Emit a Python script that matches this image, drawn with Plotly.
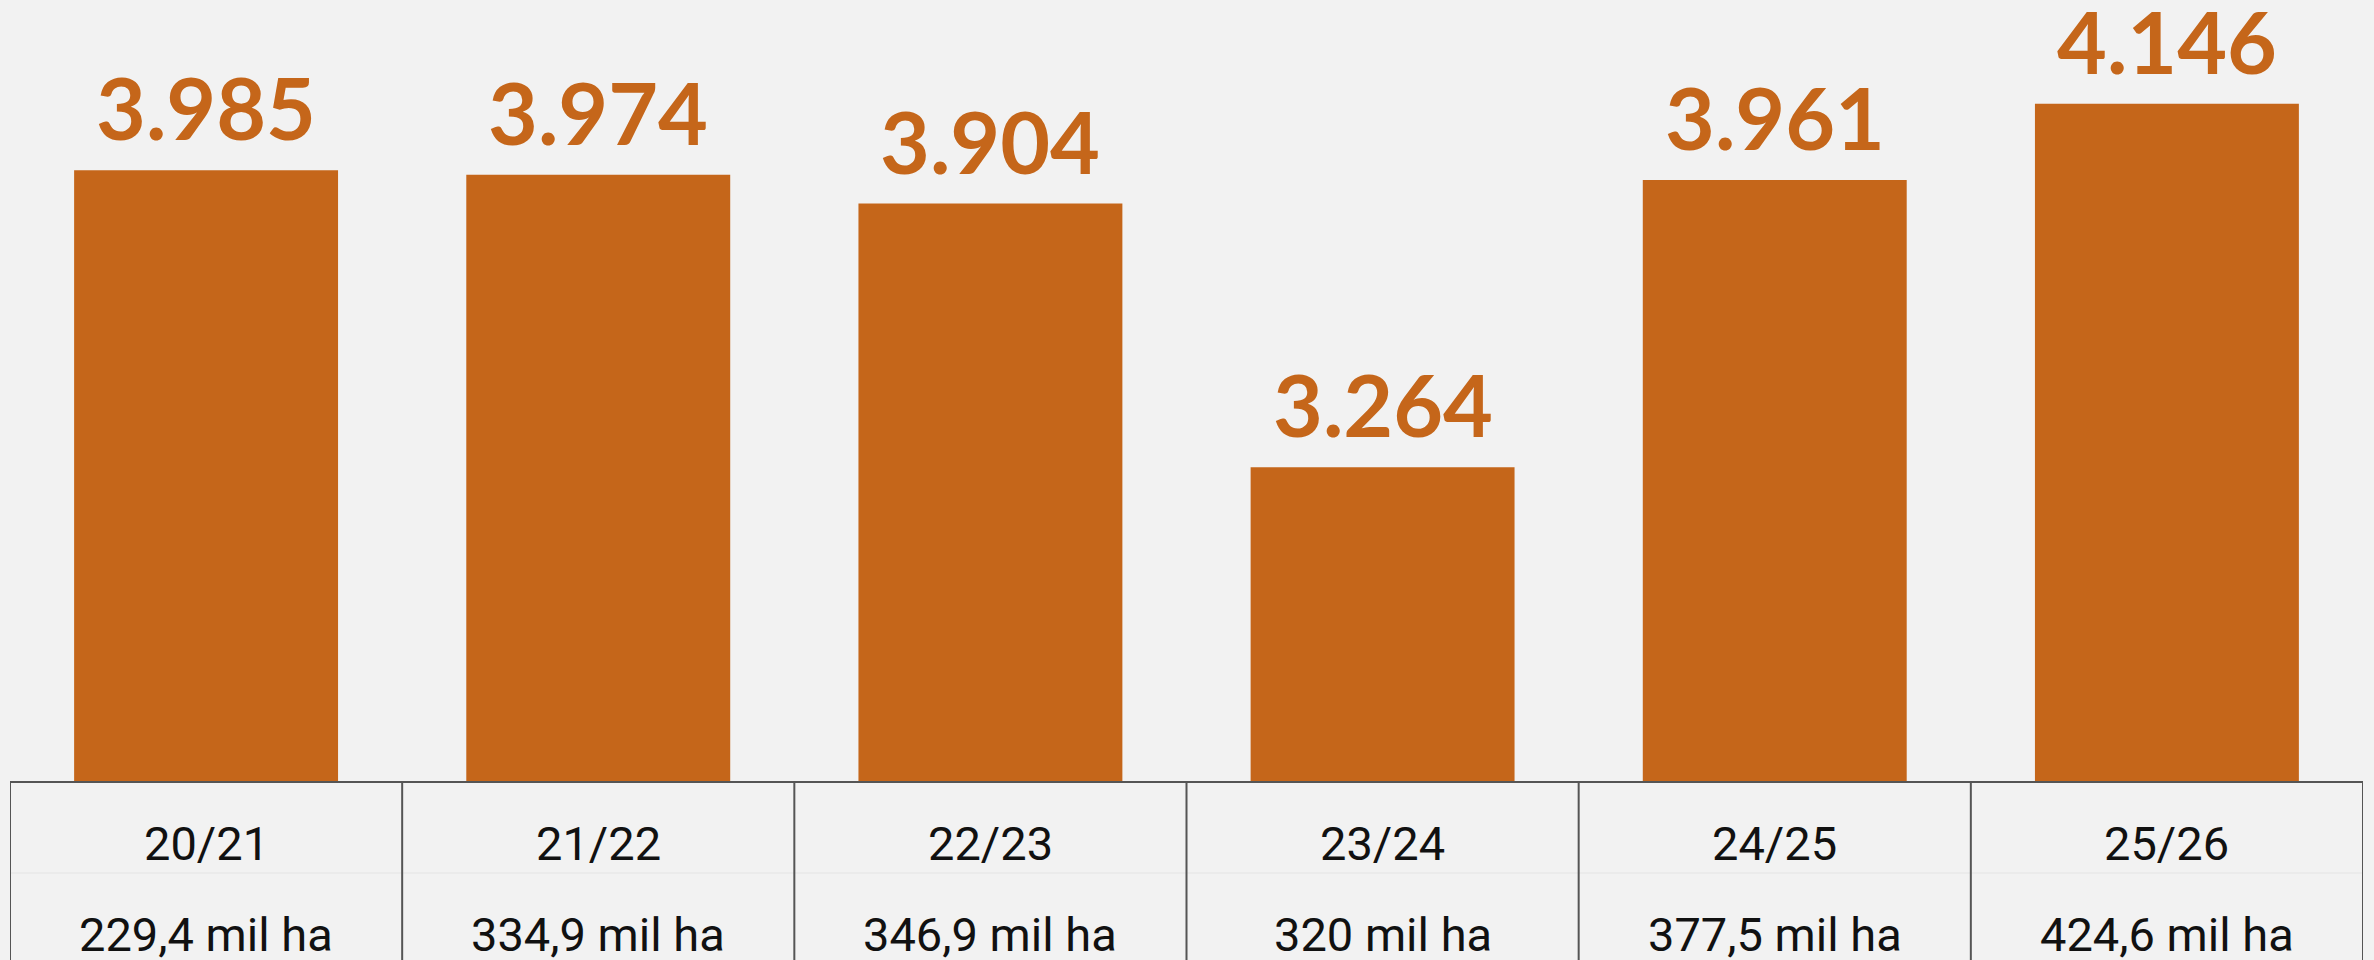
import plotly.graph_objects as go

# safras, produtividade (kg/ha) e área plantada
safras = ["20/21", "21/22", "22/23", "23/24", "24/25", "25/26"]
produtividade = [3985, 3974, 3904, 3264, 3961, 4146]
area = ["229,4 mil ha", "334,9 mil ha", "346,9 mil ha", "320 mil ha", "377,5 mil ha", "424,6 mil ha"]

# the page body has an 8px margin, so the figure is drawn a bit smaller
W, H = 2366, 952
BG = "#f2f2f2"
ORANGE = "#c5661a"
LINE = "#555555"

plot_h = 774          # pixel height of the plotting area (table sits below)
y0 = 2500
px_per_unit = 0.412
y1 = y0 + plot_h / px_per_unit
tbl_bottom = -(H - plot_h) / plot_h   # paper coords of page bottom


def fmt(v):
    return f"{v:,}".replace(",", ".")


fig = go.Figure()
fig.add_trace(go.Bar(
    x=list(range(len(safras))), y=produtividade,
    width=0.673,
    marker=dict(color=ORANGE, line=dict(width=0)),
    hoverinfo="skip",
))

# value labels above bars
for i, v in enumerate(produtividade):
    fig.add_annotation(
        x=i, y=v, xref="x", yref="y",
        text=f"<b>{fmt(v)}</b>", showarrow=False,
        yanchor="bottom", yshift=10,
        font=dict(family="Lato", size=86, color=ORANGE),
    )

# table under the bars
n = len(safras)
fig.add_shape(type="line", xref="x", yref="paper",
              x0=-0.5, x1=n - 0.5, y0=0, y1=0,
              line=dict(color=LINE, width=2))
fig.add_shape(type="line", xref="x", yref="paper",
              x0=-0.5, x1=n - 0.5, y0=-91 / plot_h, y1=-91 / plot_h,
              line=dict(color="#e4e4e4", width=1))
for k in range(n + 1):
    fig.add_shape(type="line", xref="x", yref="paper",
                  x0=k - 0.5, x1=k - 0.5, y0=0, y1=tbl_bottom,
                  line=dict(color=LINE, width=2))

for i in range(n):
    fig.add_annotation(
        x=i, y=-61 / plot_h, xref="x", yref="paper",
        text=safras[i], showarrow=False, yanchor="middle",
        font=dict(family="Roboto", size=47, color="#111111"),
    )
    fig.add_annotation(
        x=i, y=-152 / plot_h, xref="x", yref="paper",
        text=area[i], showarrow=False, yanchor="middle",
        font=dict(family="Roboto", size=47, color="#111111"),
    )

fig.update_layout(
    width=W, height=H,
    margin=dict(l=2, r=11, t=0, b=H - plot_h, pad=0),
    paper_bgcolor=BG, plot_bgcolor=BG,
    showlegend=False,
    xaxis=dict(range=[-0.5, n - 0.5], visible=False, fixedrange=True),
    yaxis=dict(range=[y0, y1], visible=False, fixedrange=True),
)

# paint the page margin the same grey as the chart
fig.write_html("out.html", post_script=f"document.body.style.background='{BG}';")
